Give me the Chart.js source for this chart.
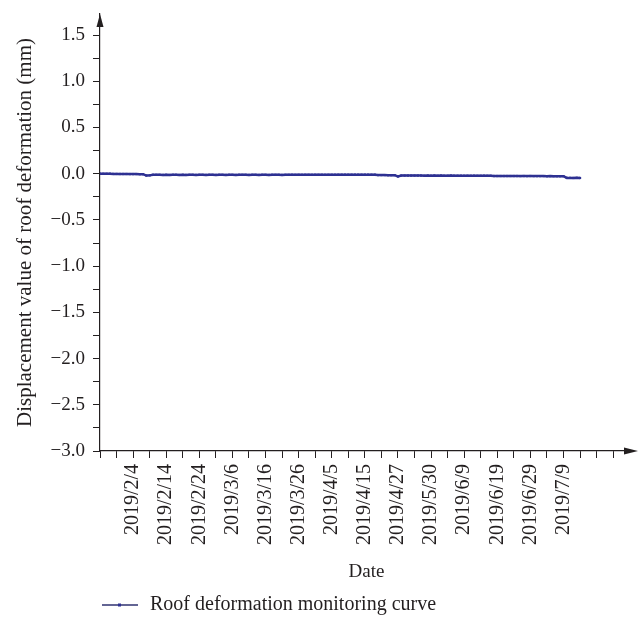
<!DOCTYPE html>
<html>
<head>
<meta charset="utf-8">
<script src="https://cdn.jsdelivr.net/npm/chart.js@4"></script>
<style>
  html, body { margin: 0; padding: 0; background: #fff; }
  canvas { display: block; }
</style>
</head>
<body>
<canvas id="chart" width="641" height="625"></canvas>
<script>
// tick labels shown every 10 points along the x axis
const dateLabels = [
  "2019/2/4", "2019/2/14", "2019/2/24", "2019/3/6", "2019/3/16",
  "2019/3/26", "2019/4/5", "2019/4/15", "2019/4/27", "2019/5/30",
  "2019/6/9", "2019/6/19", "2019/6/29", "2019/7/9",
];

// displacement readings (mm), one per monitoring record
const displacement = [
  0, 0, 0, 0, -0.002, -0.002, -0.003, -0.003, -0.003, -0.004, -0.004, -0.004, -0.005, -0.005,
  -0.02, -0.018,
  -0.012, -0.012, -0.012, -0.013, -0.012, -0.013, -0.012, -0.012, -0.013, -0.012, -0.013,
  -0.012, -0.012, -0.013, -0.012, -0.012, -0.013, -0.012, -0.012, -0.013, -0.012,
  -0.012, -0.013, -0.012, -0.012, -0.013, -0.012, -0.012, -0.012, -0.013, -0.012, -0.012,
  -0.013, -0.012, -0.012, -0.013, -0.012, -0.012, -0.012, -0.013, -0.012, -0.012, -0.011,
  -0.012, -0.011, -0.012, -0.011, -0.011, -0.012, -0.011, -0.011, -0.011, -0.012, -0.011,
  -0.011, -0.011, -0.01,
  -0.01, -0.01, -0.01, -0.01, -0.01, -0.01, -0.01, -0.01, -0.01, -0.01, -0.01,
  -0.015, -0.015, -0.015, -0.016, -0.016, -0.016,
  -0.03,
  -0.02, -0.02, -0.02, -0.02, -0.02,
  -0.02, -0.02, -0.021, -0.02, -0.021, -0.02, -0.021, -0.02, -0.021, -0.021, -0.02, -0.021,
  -0.021, -0.021, -0.022, -0.021, -0.022, -0.021, -0.022, -0.022, -0.021, -0.022, -0.022,
  -0.025, -0.025, -0.025, -0.025, -0.025, -0.025, -0.025, -0.025, -0.026, -0.025, -0.026,
  -0.025, -0.026, -0.026, -0.026, -0.026, -0.027, -0.026, -0.027, -0.027, -0.027, -0.027,
  -0.045, -0.045, -0.046, -0.045, -0.046,
];

const ink = "#231f20";
const lineColor = "#2e3192";
const serif = "'Liberation Serif', 'Times New Roman', serif";

// legend swatch: short line with a dot in the middle
const swatch = document.createElement("canvas");
swatch.width = 36;
swatch.height = 8;
{
  const c = swatch.getContext("2d");
  c.strokeStyle = "#2f3270";
  c.lineWidth = 1.3;
  c.beginPath();
  c.moveTo(0, 4);
  c.lineTo(36, 4);
  c.stroke();
  c.fillStyle = lineColor;
  c.fillRect(16, 2.5, 3, 3);
}

// arrow heads at the ends of both axes
const axisArrows = {
  id: "axisArrows",
  afterDraw(chart) {
    const { ctx, chartArea: a } = chart;
    ctx.save();
    ctx.fillStyle = ink;
    ctx.beginPath();
    ctx.moveTo(a.left, a.top);
    ctx.lineTo(a.left - 3.5, a.top + 13);
    ctx.lineTo(a.left + 3.5, a.top + 13);
    ctx.closePath();
    ctx.fill();
    ctx.beginPath();
    ctx.moveTo(a.right + 5, a.bottom);
    ctx.lineTo(a.right - 9, a.bottom - 3.5);
    ctx.lineTo(a.right - 9, a.bottom + 3.5);
    ctx.closePath();
    ctx.fill();
    ctx.restore();
  },
};

new Chart(document.getElementById("chart"), {
  type: "line",
  data: {
    datasets: [
      {
        label: "Roof deformation monitoring curve",
        data: displacement.map((v, i) => ({ x: i, y: v })),
        borderColor: lineColor,
        backgroundColor: lineColor,
        borderWidth: 2.5,
        pointRadius: 1.6,
        pointBorderWidth: 0,
        pointStyle: "rect",
        tension: 0,
      },
    ],
  },
  options: {
    responsive: false,
    animation: false,
    layout: { padding: { top: 14, right: 8, left: 8, bottom: 0 } },
    plugins: {
      tooltip: { enabled: false },
      legend: {
        position: "bottom",
        align: "start",
        fullSize: false,
        labels: {
          usePointStyle: true,
          pointStyle: swatch,
          pointStyleWidth: 40,
          padding: 0,
          color: ink,
          font: { family: serif, size: 20 },
        },
      },
    },
    scales: {
      x: {
        type: "linear",
        min: 0,
        max: 161,
        afterFit: (s) => {
          s.height = 144;
          s.paddingLeft = 0;
          s.paddingRight = 0;
        },
        grid: {
          drawOnChartArea: false,
          tickLength: 7,
          tickColor: (c) => (c.tick && c.tick.value > 155 ? "rgba(0,0,0,0)" : ink),
        },
        border: { color: ink, width: 1.2 },
        ticks: {
          stepSize: 5,
          includeBounds: false,
          autoSkip: false,
          minRotation: 90,
          maxRotation: 90,
          padding: 6,
          color: ink,
          font: { family: serif, size: 20 },
          callback: (v) => {
            if (v % 10 !== 0 || v === 0) return "";
            return dateLabels[v / 10 - 1] || "";
          },
        },
        title: {
          display: true,
          text: "Date",
          color: ink,
          font: { family: serif, size: 19 },
          padding: { top: 4, bottom: 12 },
        },
      },
      y: {
        min: -3,
        max: 1.728,
        afterFit: (s) => {
          s.width = 92;
          s.paddingTop = 0;
          s.paddingBottom = 0;
        },
        grid: { drawOnChartArea: false, tickLength: 7, tickColor: ink },
        border: { color: ink, width: 1.2 },
        ticks: {
          stepSize: 0.25,
          includeBounds: false,
          autoSkip: false,
          padding: 8,
          color: ink,
          font: { family: serif, size: 19 },
          callback: (v) => {
            const r = Math.round(v * 100) / 100;
            if (Math.abs((r * 2) % 1) > 1e-6) return "";
            return (r < 0 ? "\u2212" + Math.abs(r).toFixed(1) : r.toFixed(1));
          },
        },
        title: {
          display: true,
          text: "Displacement value of roof deformation (mm)",
          color: ink,
          font: { family: serif, size: 21 },
          padding: { top: 5, bottom: 6 },
        },
      },
    },
  },
  plugins: [axisArrows],
});
</script>
</body>
</html>
